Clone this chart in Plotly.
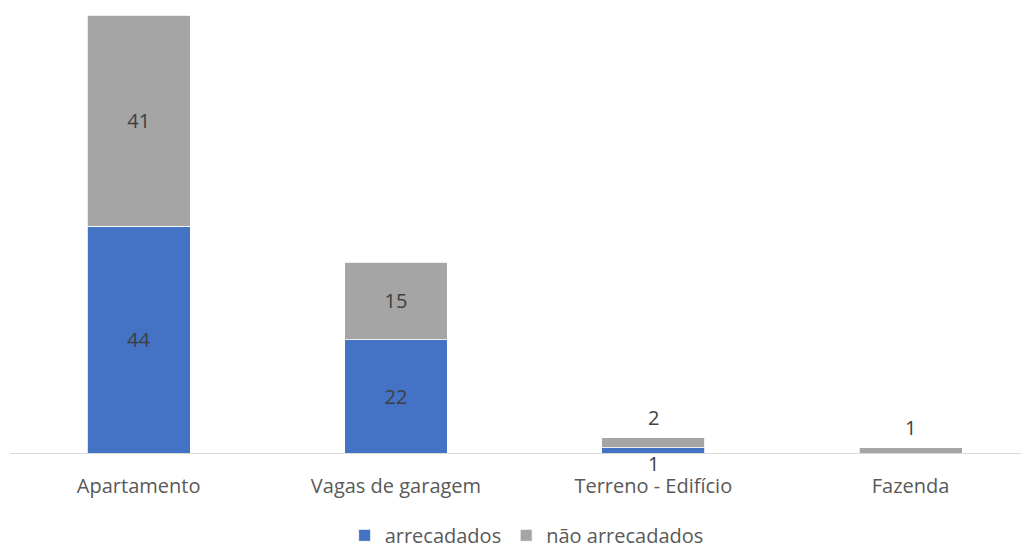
import plotly.graph_objects as go

categories = ["Apartamento", "Vagas de garagem", "Terreno - Edifício", "Fazenda"]
arrecadados = [44, 22, 1, 0]
nao_arrecadados = [41, 15, 2, 1]

BLUE = "#4472C4"
GRAY = "#A5A5A5"
LABEL = "#404040"
TICK = "#595959"
FONT = "Open Sans"
FS = 20
SMALL = 5  # segments below this get an outside label

def inside_text(vals):
    return [str(v) if v >= SMALL else "" for v in vals]

fig = go.Figure()
fig.add_trace(go.Bar(
    x=categories, y=arrecadados, name="arrecadados",
    marker=dict(color=BLUE, line=dict(color="white", width=0.8)),
    text=inside_text(arrecadados), textposition="inside", insidetextanchor="middle",
    textfont=dict(color=LABEL, size=FS, family=FONT),
))
fig.add_trace(go.Bar(
    x=categories, y=nao_arrecadados, name="não arrecadados",
    marker=dict(color=GRAY, line=dict(color="white", width=0.8)),
    text=inside_text(nao_arrecadados), textposition="inside", insidetextanchor="middle",
    textfont=dict(color=LABEL, size=FS, family=FONT),
))

annotations = []
for c, a, n in zip(categories, arrecadados, nao_arrecadados):
    if 0 < n < SMALL:
        annotations.append(dict(x=c, y=a + n, text=str(n), showarrow=False,
                                yanchor="bottom", yshift=6, borderpad=0,
                                font=dict(color=LABEL, size=FS, family=FONT)))
    if 0 < a < SMALL:
        annotations.append(dict(x=c, y=0, text=str(a), showarrow=False,
                                yanchor="middle", yshift=-10, borderpad=0,
                                font=dict(color=LABEL, size=FS, family=FONT)))

fig.update_layout(
    barmode="stack",
    bargap=0.6,
    width=1021, height=540,
    margin=dict(l=2, r=0, t=7, b=95, autoexpand=False),
    paper_bgcolor="white", plot_bgcolor="white",
    font=dict(family=FONT, color=TICK, size=FS),
    showlegend=True,
    legend=dict(orientation="h", x=0.507, xanchor="center", y=-0.188, yanchor="middle",
                font=dict(size=FS, color=TICK), traceorder="normal",
                itemwidth=30),
    annotations=annotations,
    uniformtext=dict(mode="show", minsize=FS),
)
fig.update_xaxes(range=[-0.5, 3.46], showline=True, linecolor="#D9D9D9", linewidth=1,
                 ticks="", showgrid=False, automargin=False, ticklabelstandoff=15,
                 tickfont=dict(size=FS, color=TICK))
fig.update_yaxes(range=[0, 85], visible=False, showgrid=False, zeroline=False,
                 automargin=False)

fig.write_html("out.html")
